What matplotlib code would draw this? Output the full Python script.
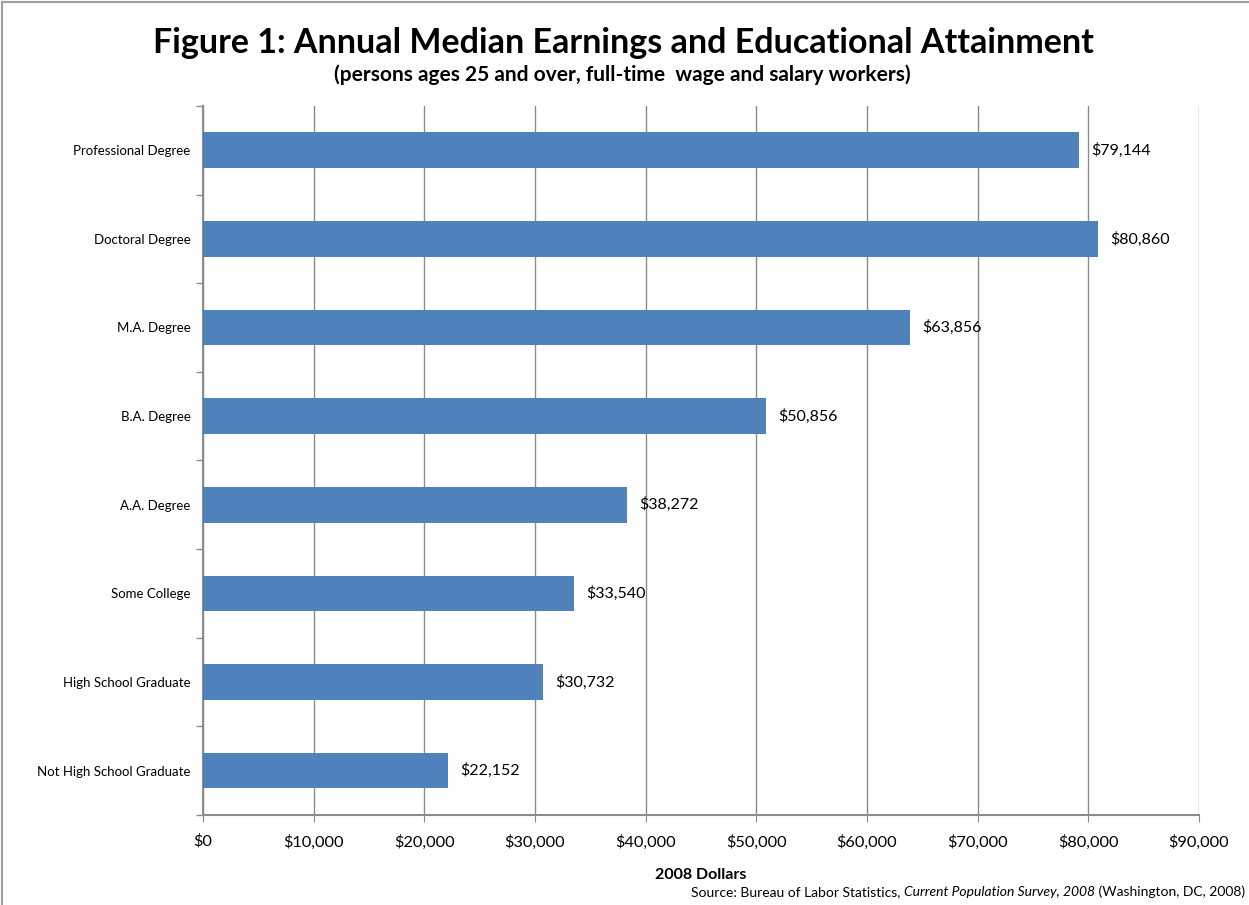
import matplotlib
matplotlib.use("Agg")
import matplotlib.pyplot as plt
from matplotlib.lines import Line2D

plt.rcParams['font.family'] = ['Lato', 'DejaVu Sans']

# data
categories = ["Professional Degree", "Doctoral Degree", "M.A. Degree", "B.A. Degree",
              "A.A. Degree", "Some College", "High School Graduate", "Not High School Graduate"]
earnings = [79144, 80860, 63856, 50856, 38272, 33540, 30732, 22152]
xticks = [0, 10000, 20000, 30000, 40000, 50000, 60000, 70000, 80000, 90000]

bar_color = "#4F81BD"
grid_color = "#8C8C8C"

fig = plt.figure(figsize=(12.49, 9.05), dpi=100)
ax = fig.add_axes([0.1625, 0.0994, 0.7975, 0.7836])

ypos = list(range(len(categories)))
ax.barh(ypos, earnings, height=0.4, color=bar_color, zorder=3)
ax.set_ylim(len(categories) - 0.5, -0.5)
ax.set_xlim(0, 90000)

for y, v in zip(ypos, earnings):
    ax.annotate("${:,}".format(v), (v, y), xytext=(9, 0), textcoords="offset points",
                va="center", ha="left", fontsize=11.5, color="black")

ax.set_xticks(xticks)
ax.set_xticklabels(["${:,}".format(t) for t in xticks], fontsize=11.8)
ax.set_yticks(ypos)
ax.set_yticklabels(categories, fontsize=9.5)
ax.tick_params(axis="y", length=0, pad=9)
ax.tick_params(axis="x", length=5, color=grid_color, pad=9)

# category boundary ticks on the left axis
ax.set_yticks([i - 0.5 for i in range(len(categories) + 1)], minor=True)
ax.tick_params(axis="y", which="minor", length=5, color=grid_color, width=1)

ax.grid(axis="x", color=grid_color, linewidth=1, zorder=0)
for s in ["top", "right"]:
    ax.spines[s].set_visible(False)
for s in ["left", "bottom"]:
    ax.spines[s].set_color(grid_color)
    ax.spines[s].set_linewidth(1.5)

fig.text(0.561, 1 - 875 / 905, "2008 Dollars", ha="center", va="center",
         fontsize=11.5, fontweight="bold")

fig.text(0.499, 0.953, "Figure 1: Annual Median Earnings and Educational Attainment",
         ha="center", va="center", fontsize=24.5, fontweight="bold")
fig.text(0.498, 0.917, "(persons ages 25 and over, full-time  wage and salary workers)",
         ha="center", va="center", fontsize=15, fontweight="bold")

# source line, mixed normal / italic
fig.canvas.draw()
r = fig.canvas.get_renderer()
y_src = 1 - 892 / 905
x = 0.997
parts = [(" (Washington, DC, 2008)", "normal"), ("Current Population Survey, 2008", "italic"),
         ("Source: Bureau of Labor Statistics, ", "normal")]
for txt, style in parts:
    t = fig.text(x, y_src, txt, ha="right", va="center", fontsize=10, fontstyle=style)
    bb = t.get_window_extent(renderer=r)
    x = bb.x0 / fig.bbox.width

# outer frame (top and left only)
fig.add_artist(Line2D([0.002, 1], [0.998, 0.998], color="#A0A0A0", linewidth=1.5, transform=fig.transFigure))
fig.add_artist(Line2D([0.002, 0.002], [0, 0.998], color="#A0A0A0", linewidth=1.5, transform=fig.transFigure))

fig.savefig("out.png", dpi=100)
